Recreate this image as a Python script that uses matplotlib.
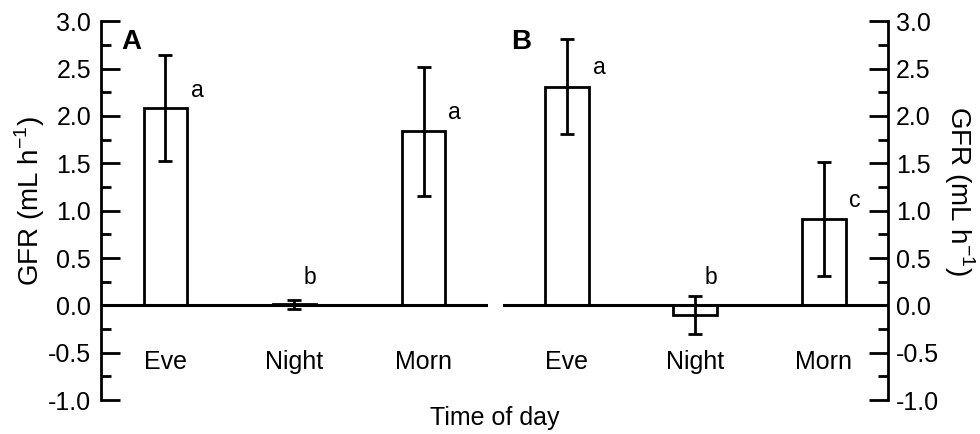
import matplotlib
matplotlib.use("Agg")
import matplotlib.pyplot as plt
import numpy as np
from matplotlib.ticker import MultipleLocator, FormatStrFormatter

plt.rcParams['font.family'] = ['Liberation Sans', 'DejaVu Sans']

times = ['Eve', 'Night', 'Morn']
gfr_a = [2.08, 0.01, 1.84]
err_a = [0.56, 0.05, 0.68]
sig_a = ['a', 'b', 'a']
gfr_b = [2.31, -0.10, 0.91]
err_b = [0.50, 0.20, 0.60]
sig_b = ['a', 'b', 'c']

# where the significance letters sit
sig_y_a = [2.27, 0.30, 2.04]
sig_y_b = [2.51, 0.30, 1.11]
sig_dx = [0.25, 0.12, 0.24]

fs = 18
ylab = 'GFR (mL h$^{\\mathregular{-1}}$)'

fig = plt.figure(figsize=(9.8, 4.34), dpi=100)
axA = fig.add_axes([0.103, 0.078, 0.395, 0.873])
axB = fig.add_axes([0.513, 0.078, 0.393, 0.873])

x = np.arange(len(times))

for ax, vals, errs, sigs, sy, panel, px in [(axA, gfr_a, err_a, sig_a, sig_y_a, 'A', 0.052),
                                            (axB, gfr_b, err_b, sig_b, sig_y_b, 'B', 0.023)]:
    ax.bar(x, vals, width=0.34, color='white', edgecolor='black', linewidth=2, zorder=2)
    ax.errorbar(x, vals, yerr=errs, fmt='none', ecolor='black', elinewidth=2,
                capsize=5, capthick=2, zorder=3)
    ax.axhline(0, color='black', lw=2.2, zorder=4)
    ax.set_xlim(-0.5, 2.5)
    ax.set_ylim(-1.0, 3.0)
    for s in ['top', 'bottom']:
        ax.spines[s].set_visible(False)
    ax.set_xticks([])
    for xi, t in zip(x, times):
        ax.text(xi, -0.6, t, ha='center', va='center', fontsize=fs)
    for xi, dx, y, s in zip(x, sig_dx, sy, sigs):
        ax.text(xi + dx, y, s, ha='center', va='center', fontsize=16.5)
    ax.yaxis.set_major_locator(MultipleLocator(0.5))
    ax.yaxis.set_minor_locator(MultipleLocator(0.25))
    ax.yaxis.set_major_formatter(FormatStrFormatter('%.1f'))
    ax.tick_params(axis='y', which='major', direction='in', length=14, width=2, labelsize=fs, pad=7)
    ax.tick_params(axis='y', which='minor', direction='in', length=7, width=2)
    ax.text(px, 0.945, panel, transform=ax.transAxes,
            fontsize=20, fontweight='bold', ha='left', va='center')

axA.spines['right'].set_visible(False)
axA.spines['left'].set_linewidth(2)

axB.spines['left'].set_visible(False)
axB.spines['right'].set_linewidth(2)
axB.yaxis.tick_right()
axB.tick_params(axis='y', which='major', pad=6)

fig.text(30 / 980, 1 - 201 / 434, ylab, rotation=90, ha='center', va='center', fontsize=20)
fig.text(959 / 980, 1 - 191 / 434, ylab, rotation=270, ha='center', va='center', fontsize=20)

fig.text(0.505, 0.037, 'Time of day', ha='center', va='center', fontsize=fs)

fig.savefig('out.png', dpi=100)
